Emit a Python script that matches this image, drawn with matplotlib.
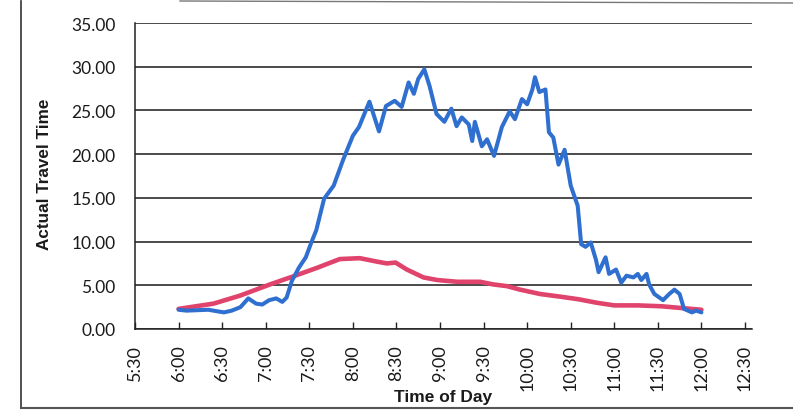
import matplotlib
matplotlib.use("Agg")
import matplotlib.pyplot as plt
from matplotlib.lines import Line2D

# ---- data (time in decimal hours) ----
actual_hours = [6.00, 6.09, 6.34, 6.52, 6.61, 6.71, 6.80, 6.89, 6.96, 7.04, 7.12, 7.19, 7.24,
                7.30, 7.38, 7.46, 7.52, 7.58, 7.67, 7.78, 7.89, 8.00, 8.07, 8.19, 8.30, 8.38,
                8.48, 8.56, 8.64, 8.70, 8.75, 8.82, 8.88, 8.96, 9.05, 9.13, 9.19, 9.25, 9.33,
                9.37, 9.40, 9.48, 9.54, 9.62, 9.71, 9.80, 9.86, 9.94, 10.00, 10.06, 10.09,
                10.14, 10.21, 10.25, 10.30, 10.36, 10.43, 10.50, 10.58, 10.62, 10.67, 10.73,
                10.79, 10.82, 10.90, 10.94, 11.02, 11.08, 11.14, 11.22, 11.27, 11.31, 11.37,
                11.40, 11.46, 11.56, 11.63, 11.69, 11.75, 11.80, 11.89, 11.94, 12.00]
actual_values = [2.2, 2.1, 2.2, 1.9, 2.1, 2.5, 3.5, 2.9, 2.8, 3.3, 3.5, 3.1, 3.6,
                 5.5, 7.0, 8.2, 9.8, 11.3, 14.9, 16.4, 19.4, 22.1, 23.1, 26.0, 22.6, 25.5,
                 26.1, 25.4, 28.2, 26.9, 28.6, 29.7, 27.8, 24.6, 23.7, 25.2, 23.2, 24.2, 23.4,
                 21.5, 23.7, 20.9, 21.7, 19.8, 23.1, 24.9, 24.0, 26.3, 25.7, 27.4, 28.8,
                 27.1, 27.4, 22.5, 21.9, 18.8, 20.5, 16.4, 14.1, 9.7, 9.4, 9.9,
                 7.9, 6.5, 8.2, 6.3, 6.8, 5.3, 6.1, 5.9, 6.3, 5.6, 6.3,
                 5.1, 4.0, 3.3, 4.0, 4.5, 4.0, 2.3, 1.9, 2.1, 1.9]

smooth_hours = [6.00, 6.40, 6.70, 7.05, 7.31, 7.59, 7.85, 8.08, 8.28, 8.39, 8.49, 8.62, 8.81,
                8.97, 9.20, 9.46, 9.61, 9.77, 9.92, 10.15, 10.38, 10.59, 10.80, 11.00, 11.27,
                11.54, 11.77, 12.00]
smooth_values = [2.3, 2.9, 3.8, 5.1, 6.0, 7.0, 8.0, 8.1, 7.7, 7.5, 7.6, 6.8, 5.9,
                 5.6, 5.4, 5.4, 5.1, 4.9, 4.5, 4.0, 3.7, 3.4, 3.0, 2.7, 2.7,
                 2.6, 2.4, 2.2]

x_ticks = [5.5, 6.0, 6.5, 7.0, 7.5, 8.0, 8.5, 9.0, 9.5, 10.0, 10.5, 11.0, 11.5, 12.0, 12.5]
x_tick_labels = ["5:30", "6:00", "6:30", "7:00", "7:30", "8:00", "8:30", "9:00", "9:30",
                 "10:00", "10:30", "11:00", "11:30", "12:00", "12:30"]
y_ticks = [0, 5, 10, 15, 20, 25, 30, 35]

plt.rcParams['font.family'] = ['Lato', 'DejaVu Sans']

W, H = 793, 414
fig = plt.figure(figsize=(W / 100, H / 100), dpi=100)
ax = fig.add_axes([135 / W, 1 - 330 / H, (752 - 135) / W, (330 - 24) / H])

ax.plot(smooth_hours, smooth_values, color="#e0436b", lw=3.3, solid_joinstyle="round",
        solid_capstyle="round", zorder=3)
ax.plot(actual_hours, actual_values, color="#2f6fd0", lw=2.9, solid_joinstyle="round",
        solid_capstyle="round", zorder=4)

ax.set_xlim(5.5, 12.5 + 7 / 87.1)
ax.set_ylim(0, 35)
ax.set_xticks(x_ticks)
ax.set_xticklabels(x_tick_labels, rotation=90, fontsize=13, color="#1a1a1a")
ax.set_yticks(y_ticks)
ax.set_yticklabels([f"{v:.2f}" for v in y_ticks], fontsize=12.5, color="#1a1a1a")
ax.tick_params(axis="y", length=0, pad=14)
ax.tick_params(axis="x", direction="in", length=5, width=1.0, color="#222222", pad=11)
ax.yaxis.grid(True, color="#1a1a1a", lw=1.1)
ax.set_axisbelow(True)
for s in ("top", "right"):
    ax.spines[s].set_visible(False)
for s in ("left", "bottom"):
    ax.spines[s].set_color("#222222")
    ax.spines[s].set_linewidth(1.1)

fig.text(45 / W, 1 - 174 / H, "Actual Travel Time", rotation=90, ha="center", va="center",
         fontsize=12.3, fontweight="bold", family=["Liberation Sans", "DejaVu Sans"],
         color="#1a1a1a")
fig.text(443 / W, 1 - 398 / H, "Time of Day", ha="center", va="center",
         fontsize=12.5, fontweight="bold", family=["Liberation Sans", "DejaVu Sans"],
         color="#1a1a1a")

# scanned page frame
fig.add_artist(Line2D([21 / W, 21 / W], [1 - 2 / H, 1 - 409 / H], transform=fig.transFigure,
                      color="#333333", lw=1.2))
fig.add_artist(Line2D([21 / W, 793 / W], [1 - 409 / H, 1 - 409 / H], transform=fig.transFigure,
                      color="#555555", lw=1.5))
fig.add_artist(Line2D([180 / W, 793 / W], [1 - 2 / H, 1 - 4 / H], transform=fig.transFigure,
                      color="#777777", lw=1.0))

fig.savefig("out.png", dpi=100)
